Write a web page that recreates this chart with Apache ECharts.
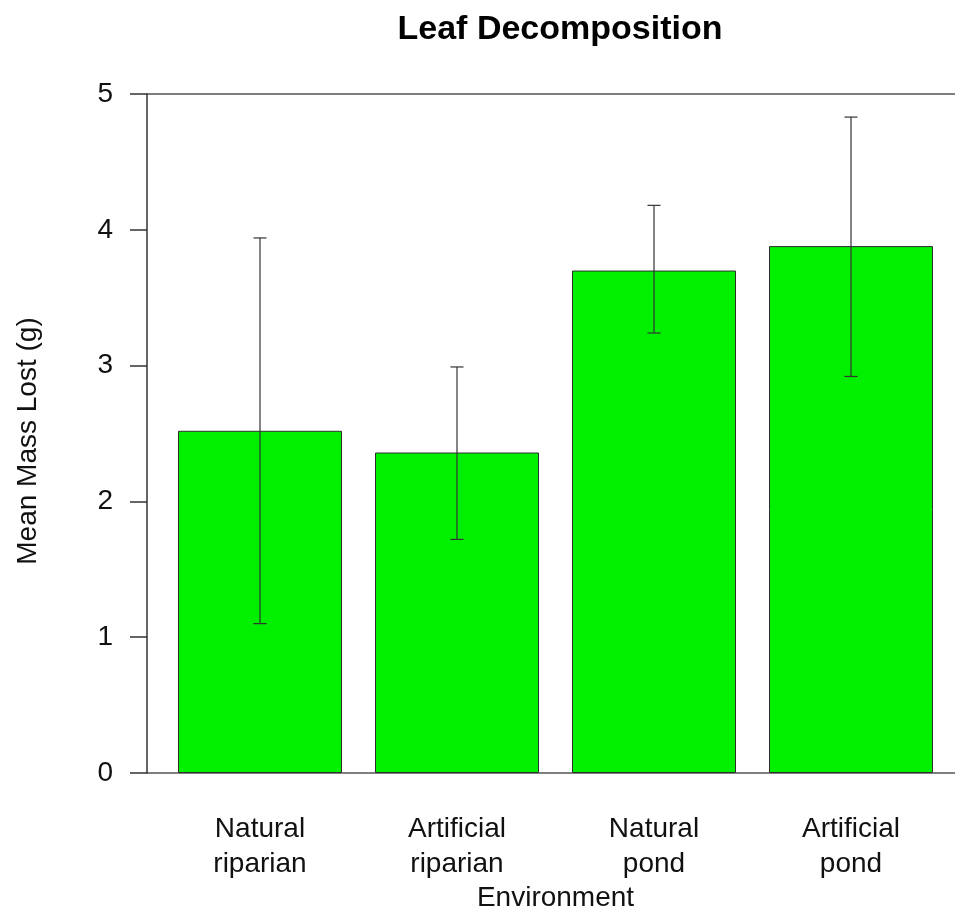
<!DOCTYPE html>
<html>
<head>
<meta charset="utf-8">
<script src="https://cdn.jsdelivr.net/npm/echarts@6/dist/echarts.min.js"></script>
<style>html,body{margin:0;padding:0;background:#fff}#c{width:955px;height:916px}</style>
</head>
<body>
<div id="c"></div>
<script>
var categories = ['Natural\nriparian', 'Artificial\nriparian', 'Natural\npond', 'Artificial\npond'];
var meanLost = [2.52, 2.36, 3.70, 3.88];
var errUpper = [3.94, 2.99, 4.18, 4.83];
var errLower = [1.10, 1.72, 3.24, 2.92];
var yTicks = [0, 1, 2, 3, 4, 5];

var FONT = 'Liberation Sans, Arial, sans-serif';
var chart = echarts.init(document.getElementById('c'));
var errData = categories.map(function (c, i) { return [i, errLower[i], errUpper[i]]; });

chart.setOption({
  animation: false,
  title: {
    text: 'Leaf Decomposition', left: 555, top: 8, textAlign: 'center',
    textStyle: { fontFamily: FONT, fontWeight: 'bold', fontSize: 34, color: '#000' }
  },
  grid: [
    { left: 161.5, right: 5.5, top: 94, bottom: 143, containLabel: false, outerBoundsMode: 'none' },
    { left: 147, right: 0, top: 94, bottom: 143, containLabel: false, outerBoundsMode: 'none' }
  ],
  xAxis: [
    {
      type: 'category', gridIndex: 0, data: categories,
      axisLine: { show: false }, axisTick: { show: false },
      axisLabel: { fontFamily: FONT, fontSize: 28, color: '#111', margin: 39, lineHeight: 35 },
      name: 'Environment', nameLocation: 'middle', nameGap: 111, nameMoveOverlap: false,
      nameTextStyle: { fontFamily: FONT, fontSize: 28, color: '#111' }
    },
    { type: 'value', gridIndex: 1, min: 0, max: 1, show: false }
  ],
  yAxis: [
    { type: 'value', gridIndex: 0, min: 0, max: 5, show: false },
    {
      type: 'value', gridIndex: 1, min: 0, max: 5, interval: 1,
      axisLine: { show: true, lineStyle: { color: '#333', width: 1.5 } },
      axisTick: { show: true, inside: false, length: 17, lineStyle: { color: '#333', width: 1.5 } },
      axisLabel: { fontFamily: FONT, fontSize: 28, color: '#111', margin: 34, padding: [5, 0, 0, 0] },
      splitLine: { show: false },
      name: 'Mean Mass Lost (g)', nameLocation: 'middle', nameGap: 105, nameRotate: 90, nameMoveOverlap: false,
      nameTextStyle: { fontFamily: FONT, fontSize: 28, color: '#111', padding: [0, 15, 0, 0] }
    },
    {
      type: 'value', gridIndex: 1, min: 0, max: 5, interval: 5,
      axisLine: { show: false }, axisTick: { show: false }, axisLabel: { show: false },
      splitLine: { show: true, lineStyle: { color: '#555', width: 1.5 } }
    }
  ],
  series: [
    {
      type: 'bar', xAxisIndex: 0, yAxisIndex: 0, data: meanLost, barWidth: 164,
      itemStyle: { color: '#00f000', borderColor: '#2e2e2e', borderWidth: 1 }, z: 3
    },
    {
      type: 'custom', xAxisIndex: 0, yAxisIndex: 0, data: errData, z: 5,
      renderItem: function (params, api) {
        var x = api.value(0);
        var lo = api.coord([x, api.value(1)]);
        var hi = api.coord([x, api.value(2)]);
        var hw = 6.5;
        var st = { stroke: '#333', lineWidth: 1.2 };
        return {
          type: 'group', children: [
            { type: 'line', shape: { x1: lo[0], y1: lo[1], x2: hi[0], y2: hi[1] }, style: st },
            { type: 'line', shape: { x1: lo[0] - hw, y1: lo[1], x2: lo[0] + hw, y2: lo[1] }, style: st },
            { type: 'line', shape: { x1: hi[0] - hw, y1: hi[1], x2: hi[0] + hw, y2: hi[1] }, style: st }
          ]
        };
      }
    }
  ]
});
</script>
</body>
</html>
